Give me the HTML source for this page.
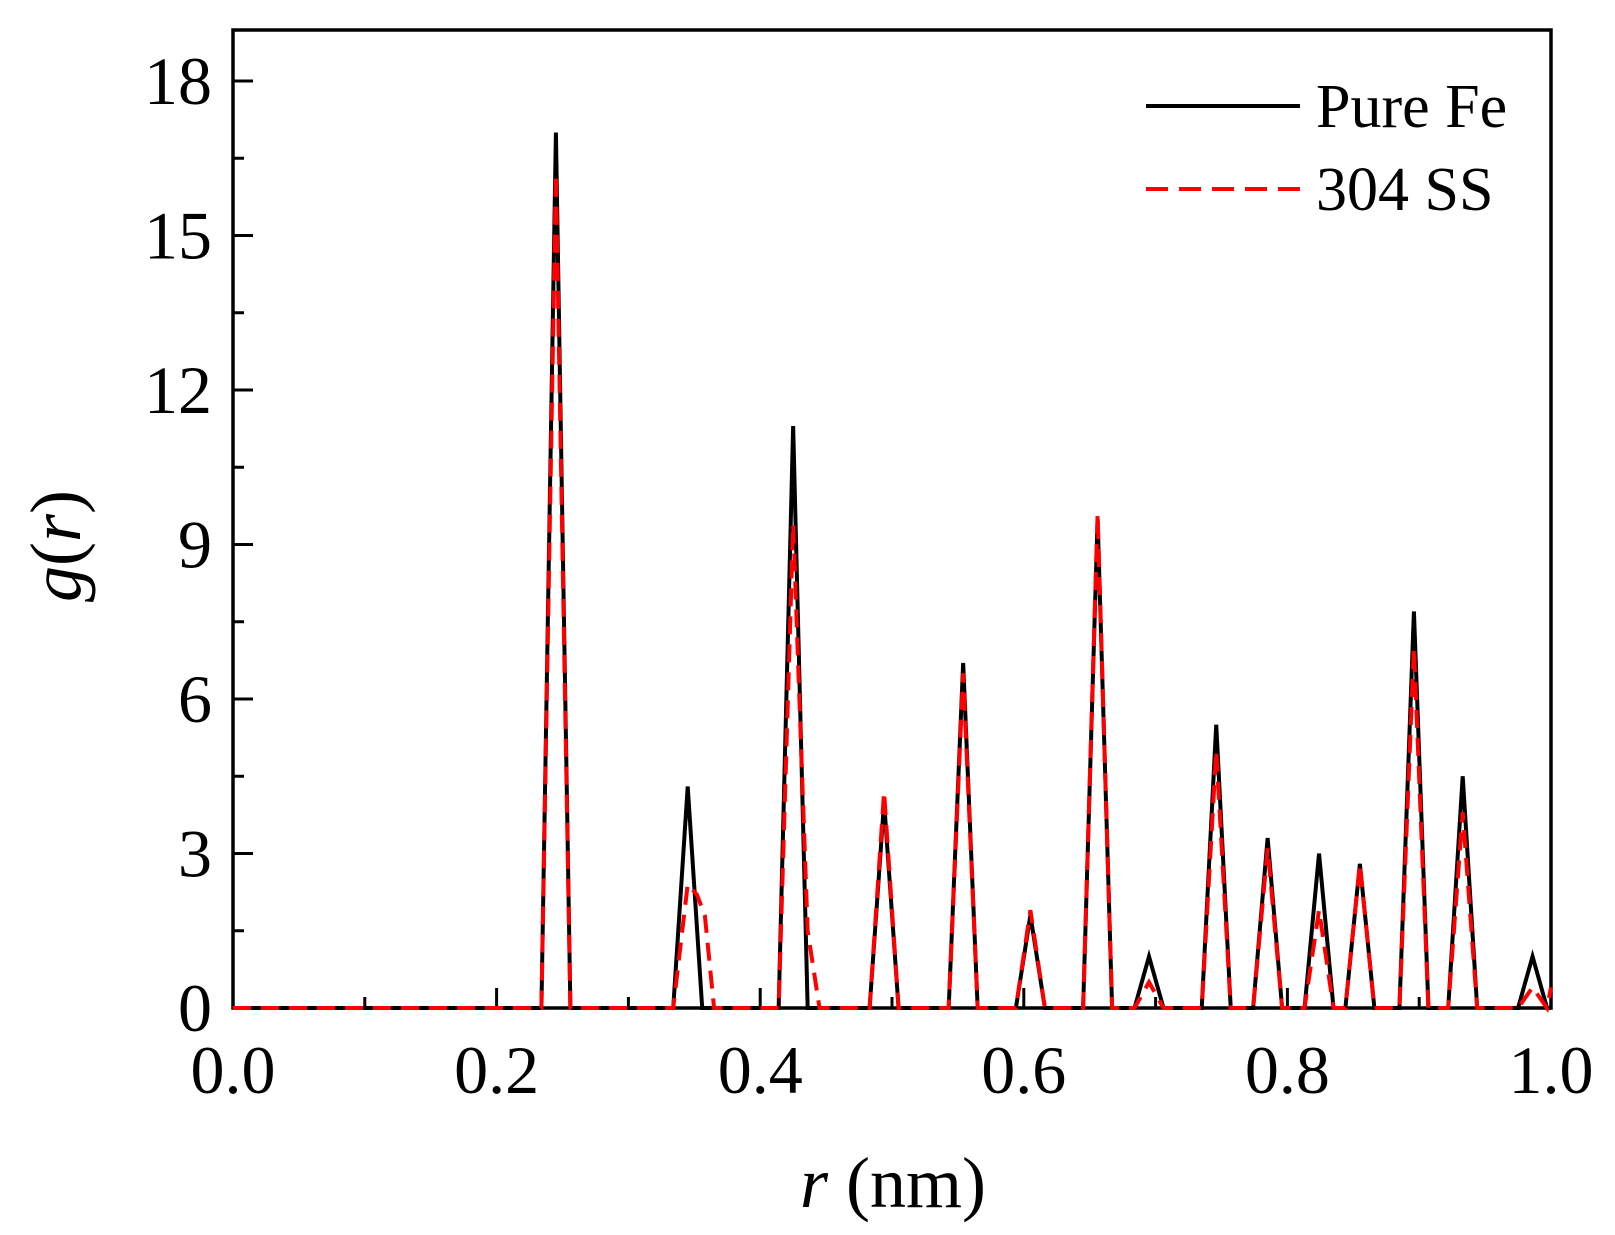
<!DOCTYPE html>
<html><head><meta charset="utf-8"><style>
html,body{margin:0;padding:0;background:#fff}
svg{display:block}
text{font-family:"Liberation Serif",serif;fill:#000}
</style></head><body>
<svg id="s" width="1615" height="1235" viewBox="0 0 1615 1235">
<rect x="233" y="30" width="1318" height="978" fill="none" stroke="#000" stroke-width="3.5"/>
<g id="ticks" stroke="#000" stroke-width="3"></g>
<g id="series"></g>
<g font-size="68" text-anchor="end" id="ylab"></g>
<g font-size="68" text-anchor="middle" id="xlab"></g>
<text x="893" y="1207" font-size="72" text-anchor="middle"><tspan font-style="italic">r</tspan> (nm)</text>
<text transform="translate(80,546) rotate(-90)" font-size="72" text-anchor="middle"><tspan font-style="italic">g</tspan>(<tspan font-style="italic">r</tspan>)</text>
<line x1="1146" y1="106" x2="1300" y2="106" stroke="#000" stroke-width="4"/>
<text x="1316" y="127" font-size="62">Pure Fe</text>
<line x1="1146" y1="189" x2="1300" y2="189" stroke="#f00" stroke-width="4" stroke-dasharray="22,11"/>
<text x="1316" y="210" font-size="62">304 SS</text>
</svg>
<script>
var X0=233,X1=1551,Y0=1008,k=(1008-81)/18;
function px(r){return X0+r*(X1-X0)}
function py(v){return Y0-v*k}
var ns="http://www.w3.org/2000/svg";
function el(t,a,p){var e=document.createElementNS(ns,t);for(var i in a)e.setAttribute(i,a[i]);p.appendChild(e);return e}
var T=document.getElementById('ticks'),YL=document.getElementById('ylab'),XL=document.getElementById('xlab');
for(var i=0;i<=10;i++){var x=px(i/10),L=i%2==0?20:11;el('line',{x1:x,y1:Y0,x2:x,y2:Y0-L},T);}
for(var v=0;v<=18;v+=1.5){var y=py(v),L=(v%3==0)?20:11;el('line',{x1:X0,y1:y,x2:X0+L,y2:y},T);}
for(var v=0;v<=18;v+=3){var t=el('text',{x:212,y:py(v)+23},YL);t.textContent=v;}
for(var i=0;i<=5;i++){var t=el('text',{x:px(i*0.2),y:1093},XL);t.textContent=(i*0.2).toFixed(1);}
var pk=[0.245,0.345,0.425,0.494,0.554,0.605,0.656,0.695,0.746,0.785,0.824,0.855,0.896,0.933,0.986];
var hb=[17.0,4.3,11.3,4.0,6.7,1.8,9.5,1.0,5.5,3.3,3.0,2.8,7.7,4.5,1.0];
var hr=[16.2,2.4,9.4,4.2,6.5,1.9,9.6,0.5,5.0,3.1,1.9,2.8,7.0,3.8,0.4];
function path(h,red){var w=0.011,d="M"+px(0)+","+py(0);
for(var i=0;i<pk.length;i++){var c=pk[i];
 d+=" L"+px(c-w)+","+py(0)+" L"+px(c)+","+py(h[i]);
 if(red&&i==1){d+=" L"+px(c+0.007)+","+py(2.2)+" L"+px(c+0.013)+","+py(1.8)+" L"+px(c+0.02)+","+py(0);}
 else if(red&&i==2){d+=" L"+px(c+0.011)+","+py(1.5)+" L"+px(c+0.02)+","+py(0);}
 else d+=" L"+px(c+w)+","+py(0);}
d+=" L"+px(1)+","+py(red?0.4:0);return d;}
var S=document.getElementById('series');
el('path',{d:path(hb,false),fill:"none",stroke:"#000","stroke-width":4},S);
el('path',{d:path(hr,true),fill:"none",stroke:"#f00","stroke-width":4,"stroke-dasharray":"18,10"},S);
</script>
</body></html>
